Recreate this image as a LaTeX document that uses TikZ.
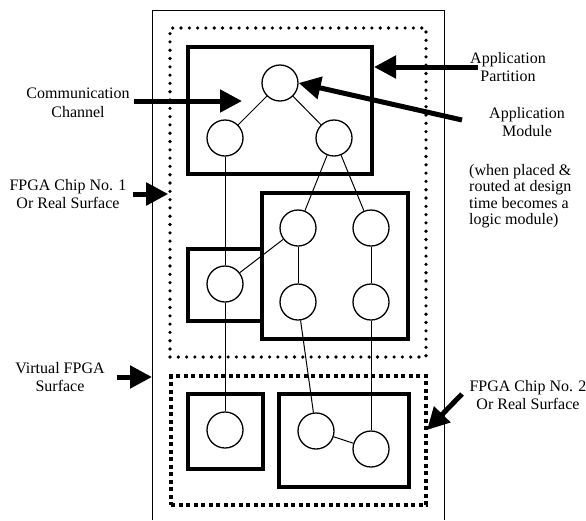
\documentclass[tikz,border=0pt]{standalone}
\usepackage{fontspec}
\setmainfont{Liberation Serif}
\usetikzlibrary{positioning, arrows.meta}

\begin{document}
\begin{tikzpicture}[x=1pt, y=-1pt,
    module/.style={circle, draw, line width=1.3pt, fill=white, minimum size=36pt, inner sep=0pt},
    partition/.style={draw, line width=4pt, inner sep=0pt},
    chipdots/.style={draw, line width=3.6pt, line cap=round, dash pattern=on 0pt off 8.3pt, inner sep=0pt},
    chipdash/.style={draw, line width=4pt, dash pattern=on 4pt off 3.5pt, inner sep=0pt},
    link/.style={line width=1pt},
    callout/.style={line width=5pt, -{Triangle[length=22pt, width=22pt]}},
    lbl/.style={font=\fontsize{16}{18.5}\selectfont, align=center, inner sep=0pt}]
    \useasboundingbox (0,0) rectangle (586,520);
    \draw[line width=1pt] (152,520) |- (444,10) -- (444,520);
    \coordinate (outerL) at (152,376);
    \node[chipdots, minimum width=256pt, minimum height=329pt] (chip1) at (298,192.5) {};
    \node[chipdash, minimum width=255pt, minimum height=129pt] (chip2) at (298.5,440.5) {};
    \node[partition, minimum width=184pt, minimum height=127pt] (part1) at (280,110.5) {};
    \node[partition, minimum width=146pt, minimum height=146pt] (part2) at (335,266) {};
    \node[partition, minimum width=74pt, minimum height=72pt] (part3) at (225,285) {};
    \node[partition, minimum width=75pt, minimum height=75pt] (part4) at (225.5,431.5) {};
    \node[partition, minimum width=130pt, minimum height=93pt] (part5) at (344,440.5) {};
    \node[module] (app) at (280,83) {};
    \node[module] (appL) at (225,138) {};
    \node[module] (appR) at (334,138) {};
    \node[module] (midUL) at (298,228) {};
    \node[module] (midUR) at (371,228) {};
    \node[module] (midLL) at (298,302) {};
    \node[module] (midLR) at (371,302) {};
    \node[module] (side) at (225,284) {};
    \node[module] (botL) at (225,430) {};
    \node[module] (botA) at (316,431) {};
    \node[module] (botB) at (371,449) {};
    \foreach \a/\b in {app/appL, app/appR, appL/side, side/botL, appR/midUL, appR/midUR,
                       midUL/side, midUL/midLL, midUR/midLR, midLL/botA, midLR/botB, botA/botB}
        \draw[link] (\a) -- (\b);
    \node[lbl] (lblComm) at (78,103) {Communication\\Channel};
    \node[lbl] (lblChipA) at (68,194) {FPGA Chip No. 1\\Or Real Surface};
    \node[lbl] (lblPart) at (508,67) {Application\\Partition};
    \node[lbl] (lblModule) at (527,122) {Application\\Module};
    \node[lbl, align=left, anchor=west, font=\fontsize{16}{16.5}\selectfont] (lblNote) at (469,196)
        {(when placed \&\\routed at design\\time becomes a\\logic module)};
    \node[lbl] (lblVirtual) at (60,377) {Virtual FPGA\\Surface};
    \node[lbl] (lblChipB) at (528,395) {FPGA Chip No. 2\\Or Real Surface};
    \coordinate (commTip) at (242,101);
    \coordinate (modTail) at (462,120);
    \coordinate (chipBTail) at (462,394);
    \coordinate (chipBTip) at (427,430);
    \draw[callout, shorten <=4pt] (lblComm.east |- commTip) -- (commTip);
    \draw[callout, shorten <=6pt] (lblChipA.east) -- (lblChipA.east -| chip1.west);
    \draw[callout, shorten <=-8pt] (lblPart.west) -- (lblPart.west -| part1.east);
    \draw[callout] (modTail) -- (app.east);
    \draw[callout, shorten <=12pt] (lblVirtual.east) -- (lblVirtual.east -| outerL);
    \draw[callout] (chipBTail) -- (chipBTip);
\end{tikzpicture}
\end{document}
